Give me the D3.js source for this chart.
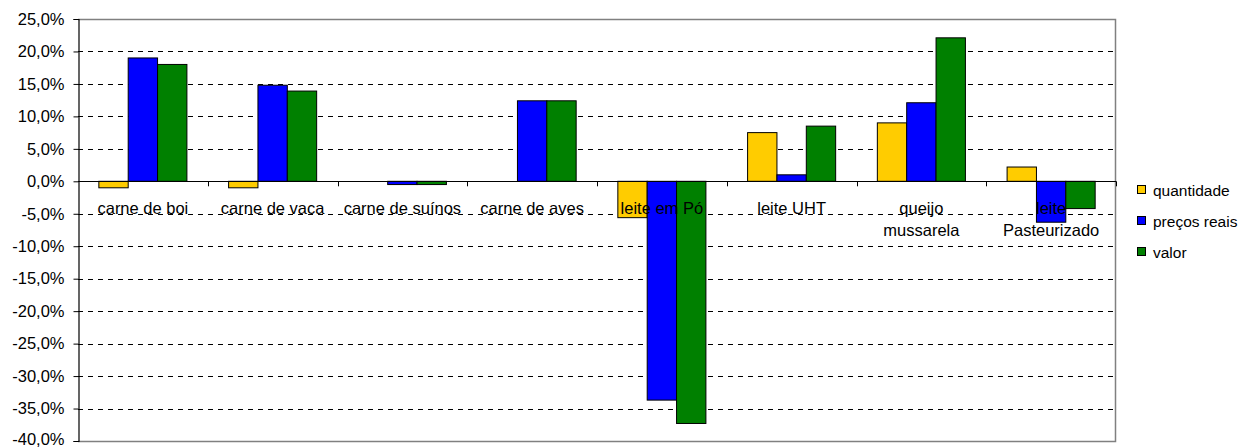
<!DOCTYPE html>
<html>
<head>
<meta charset="utf-8">
<script src="https://cdn.jsdelivr.net/npm/d3@7"></script>
<style>
  body { margin: 0; background: #fff; }
  text { font-family: "Liberation Sans", Arial, sans-serif; }
</style>
</head>
<body>
<svg id="chart" width="1251" height="447"></svg>
<script>
const categories = [
  ["carne de boi"],
  ["carne de vaca"],
  ["carne de suínos"],
  ["carne de aves"],
  ["leite em Pó"],
  ["leite UHT"],
  ["queijo", "mussarela"],
  ["leite", "Pasteurizado"]
];
const seriesNames = ["quantidade", "preços reais", "valor"];
const seriesColors = ["#FFCC00", "#0000FF", "#008000"];
const quantidade = [-1.0, -1.0, 0.0, 0.0, -5.6, 7.5, 9.0, 2.2];
const precosReais = [19.0, 14.8, -0.5, 12.4, -33.7, 1.0, 12.1, -6.3];
const valor = [18.0, 13.9, -0.5, 12.4, -37.3, 8.5, 22.1, -4.2];
const yTicks = [25, 20, 15, 10, 5, 0, -5, -10, -15, -20, -25, -30, -35, -40];

const seriesValues = [quantidade, precosReais, valor];

const svg = d3.select("#chart");
const plotLeft = 78, plotRight = 1116, plotTop = 19, plotBottom = 441;
const labelSize = "16.5px";
const legendSize = "15.5px";

const x = d3
  .scaleBand()
  .domain(d3.range(categories.length))
  .range([plotLeft, plotRight])
  .padding(0);

const xSub = d3
  .scaleBand()
  .domain(d3.range(seriesNames.length))
  .range([0, x.bandwidth()])
  .paddingInner(0)
  .paddingOuter(0.71);

const y = d3.scaleLinear().domain([-40, 25]).range([plotBottom, plotTop]);

const fmt = (v) => d3.format(".1f")(v).replace(".", ",").replace("−", "-") + "%";

// gridlines
yTicks.forEach((t) => {
  if (t === 25 || t === -40 || t === 0) return;
  svg
    .append("line")
    .attr("x1", plotLeft)
    .attr("x2", plotRight)
    .attr("y1", Math.round(y(t)) + 0.5)
    .attr("y2", Math.round(y(t)) + 0.5)
    .attr("stroke", "#000")
    .attr("stroke-width", 1)
    .attr("stroke-dasharray", "5,5");
});

// frame top, right, bottom in gray
svg
  .append("path")
  .attr("d", `M${plotLeft},${plotTop + 0.5}H${plotRight - 0.5}V${plotBottom + 0.5}H${plotLeft}`)
  .attr("fill", "none")
  .attr("stroke", "#808080")
  .attr("stroke-width", 1.5);

// bars
seriesValues.forEach((vals, s) => {
  svg
    .append("g")
    .selectAll("rect")
    .data(vals)
    .join("rect")
    .attr("x", (d, i) => x(i) + xSub(s))
    .attr("width", xSub.bandwidth())
    .attr("y", (d) => y(Math.max(0, d)))
    .attr("height", (d) => Math.abs(y(d) - y(0)))
    .attr("fill", seriesColors[s])
    .attr("stroke", "#000")
    .attr("stroke-width", 1);
});

// y axis
const yAxis = d3
  .axisLeft(y)
  .tickValues(yTicks)
  .tickSize(5)
  .tickPadding(9)
  .tickFormat(fmt);

const gy = svg
  .append("g")
  .attr("transform", `translate(${plotLeft + 0.5},0)`)
  .call(yAxis);
gy.select(".domain").attr("stroke", "#000").attr("stroke-width", 1.2);
gy.selectAll("text")
  .attr("font-size", labelSize)
  .attr("font-family", "Liberation Sans, Arial, sans-serif")
  .attr("fill", "#000");
// last label sits a little higher so it is not clipped at the bottom
gy.selectAll(".tick")
  .filter((d) => d === -40)
  .select("text")
  .attr("dy", "0.2em");

// zero line with category ticks
svg
  .append("line")
  .attr("x1", plotLeft)
  .attr("x2", plotRight)
  .attr("y1", Math.round(y(0)) + 0.5)
  .attr("y2", Math.round(y(0)) + 0.5)
  .attr("stroke", "#000")
  .attr("stroke-width", 1);

d3.range(1, categories.length + 1).forEach((i) => {
  const bx = Math.round(plotLeft + i * x.step()) + 0.5;
  svg
    .append("line")
    .attr("x1", bx)
    .attr("x2", bx)
    .attr("y1", y(0))
    .attr("y2", y(0) + 5)
    .attr("stroke", "#000");
});

// category labels
categories.forEach((lines, i) => {
  const t = svg
    .append("text")
    .attr("x", x(i) + x.bandwidth() / 2)
    .attr("y", 214)
    .attr("text-anchor", "middle")
    .attr("font-size", labelSize)
    .attr("fill", "#000");
  lines.forEach((l, k) => {
    t.append("tspan")
      .attr("x", x(i) + x.bandwidth() / 2)
      .attr("dy", k === 0 ? 0 : 22)
      .text(l);
  });
});

// legend
seriesNames.forEach((name, s) => {
  const ly = 190 + s * 31;
  svg
    .append("rect")
    .attr("x", 1137.5)
    .attr("y", ly - 4.5)
    .attr("width", 8)
    .attr("height", 8)
    .attr("fill", seriesColors[s])
    .attr("stroke", "#000")
    .attr("stroke-width", 1);
  svg
    .append("text")
    .attr("x", 1153)
    .attr("y", ly + 5.5)
    .attr("font-size", legendSize)
    .attr("fill", "#000")
    .text(name);
});
</script>
</body>
</html>
